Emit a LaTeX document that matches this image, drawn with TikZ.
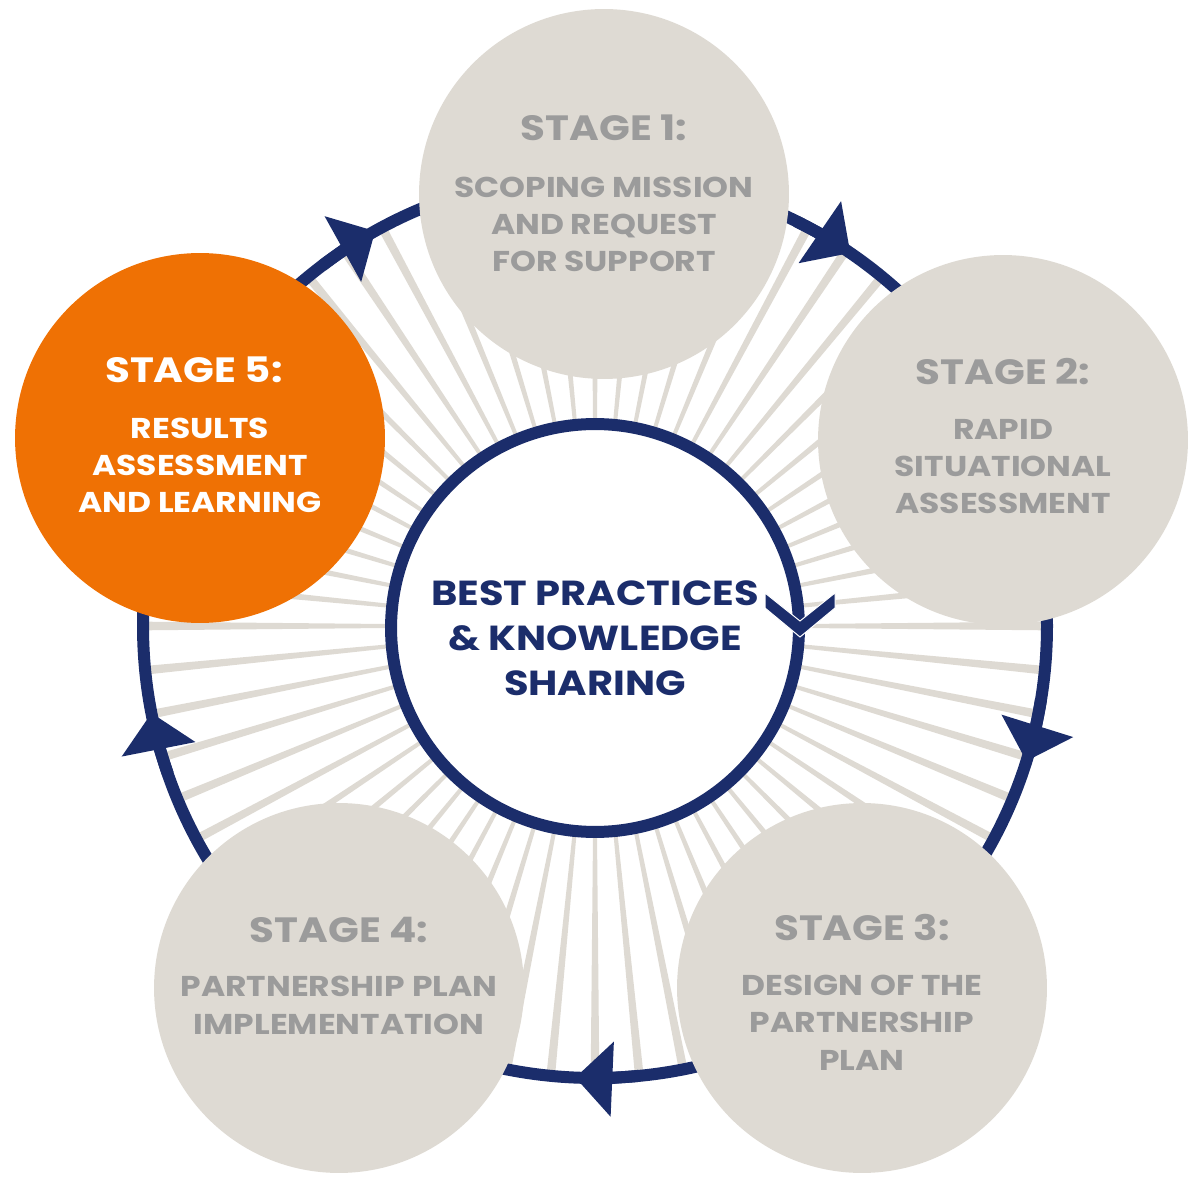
\documentclass[tikz,border=0pt]{standalone}
\usepackage{fontspec}
\setmainfont{Poppins}
\newfontfamily\widefont[FakeStretch=1.15]{Poppins}
\usetikzlibrary{arrows.meta,calc}
\definecolor{navy}{HTML}{1B2D6B}
\definecolor{stagegrey}{HTML}{DEDAD3}
\definecolor{labelgrey}{HTML}{9B9B9B}
\definecolor{stageorange}{HTML}{EF7104}
\tikzset{
  stage/.style    = {circle, fill=stagegrey, minimum size=7.4cm, inner sep=0pt},
  hub/.style      = {circle, draw=navy, line width=0.24cm, fill=white, minimum size=8.16cm, inner sep=0pt},
  ring/.style     = {draw=navy, line width=0.24cm},
  ringtip/.style  = {ring, -{Triangle[length=0.74cm, width=1.46cm]}},
  spoke/.style    = {fill=stagegrey},
  head/.style     = {font=\widefont\bfseries\fontsize{20}{24}\selectfont, text=labelgrey, anchor=base, inner sep=0pt},
  sub/.style      = {font=\widefont\bfseries\fontsize{16.3}{21.3}\selectfont, text=labelgrey, align=center, anchor=base, inner sep=0pt},
  hubtext/.style  = {font=\widefont\bfseries\fontsize{19.8}{25.6}\selectfont, text=navy, align=center, anchor=base, inner sep=0pt},
}

\begin{document}
\begin{tikzpicture}[x=0.02cm, y=0.02cm]
  \useasboundingbox (0,0) rectangle (1200,1181);
  \coordinate (c) at (595,555);

  % rays and the cycle
  \begin{scope}[shift={(c)}]
    \foreach \a in {0,5.625,...,354.4}
      \fill[spoke] (\a-0.55:205) -- (\a-0.55:452) -- (\a+0.55:452) -- (\a+0.55:205) -- cycle;
    \draw[ring] (0,0) circle[radius=452];
    \foreach \a in {119.1,55.6,-17.4,-92.5,-168.9}
      \draw[ringtip] (\a+8:452) arc[start angle=\a+8, end angle=\a, radius=452];
  \end{scope}

  \node[stage] (s1) at (604,987) {};
  \node[stage] (s2) at (1003,741) {};
  \node[stage] (s3) at (862,193) {};
  \node[stage] (s4) at (339,193) {};
  \node[stage, fill=stageorange] (s5) at (200,743) {};

  \node[hub] (hub) at (595,553) {};
  \fill[navy, draw=white, line width=0.02cm] (765,588) -- (800,560) -- (835,588) -- (835,573) -- (800,544) -- (765,573) -- cycle;

  % base anchor sits on the last line
  \node[hubtext] (best) at ($(hub)+(0,-67)$) {BEST PRACTICES\\\& KNOWLEDGE\\SHARING};

  \node[head] (h1) at ($(s1)+(0,53)$) {STAGE 1:};
  \node[sub]  (t1) at ($(s1)+(0,-78)$) {SCOPING MISSION\\AND REQUEST\\FOR SUPPORT};
  \node[head] (h2) at ($(s2)+(0,55)$) {STAGE 2:};
  \node[sub]  (t2) at ($(s2)+(0,-74)$) {RAPID\\SITUATIONAL\\ASSESSMENT};
  \node[head] (h3) at ($(s3)+(0,48)$) {STAGE 3:};
  \node[sub]  (t3) at ($(s3)+(0,-82)$) {DESIGN OF THE\\PARTNERSHIP\\PLAN};
  \node[head] (h4) at ($(s4)+(0,46)$) {STAGE 4:};
  \node[sub]  (t4) at ($(s4)+(0,-46)$) {PARTNERSHIP PLAN\\IMPLEMENTATION};
  \node[head, text=white] (h5) at ($(s5)+(-6,55)$) {STAGE 5:};
  \node[sub, text=white]  (t5) at ($(s5)+(0,-75)$) {RESULTS\\ASSESSMENT\\AND LEARNING};
\end{tikzpicture}
\end{document}
